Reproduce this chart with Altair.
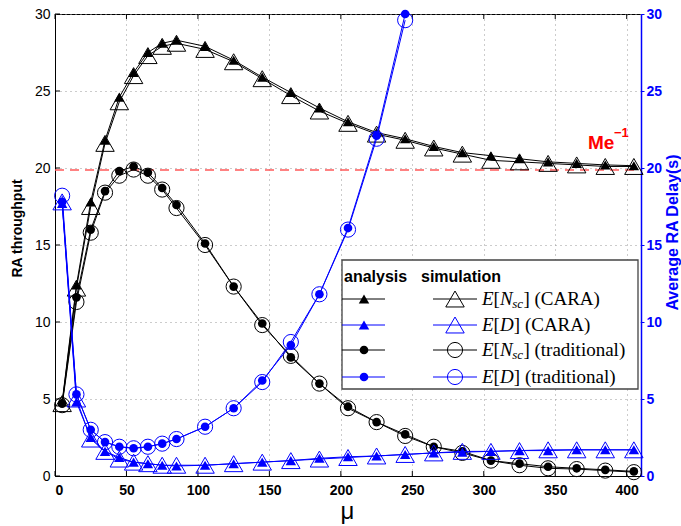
import altair as alt
import pandas as pd

# ---------------- data ----------------
mu = [5, 15, 25, 35, 45, 55, 65, 75, 85, 105, 125, 145, 165, 185, 205,
      225, 245, 265, 285, 305, 325, 345, 365, 385, 405]

nsc_cara_ana = [4.8, 12.4, 17.8, 21.8, 24.6, 26.2, 27.5, 28.1, 28.3, 27.9, 27.0, 25.9,
                24.9, 23.9, 23.0, 22.3, 21.9, 21.4, 21.0, 20.8, 20.6, 20.4, 20.3, 20.2, 20.15]
nsc_cara_sim = [4.7, 12.2, 17.5, 21.6, 24.3, 26.0, 27.3, 27.9, 28.1, 27.7, 26.9, 25.8,
                24.7, 23.7, 22.9, 22.2, 21.8, 21.3, 20.9, 20.5, 20.4, 20.3, 20.2, 20.1, 20.1]

nsc_trad_ana = [4.7, 11.6, 16.0, 18.5, 19.8, 20.1, 19.7, 18.7, 17.6, 15.1, 12.3, 9.9,
                7.7, 6.0, 4.5, 3.5, 2.7, 1.9, 1.6, 1.0, 0.8, 0.6, 0.5, 0.4, 0.3]
nsc_trad_sim = [4.6, 11.3, 15.8, 18.4, 19.5, 19.9, 19.5, 18.6, 17.4, 15.0, 12.3, 9.8,
                7.8, 6.0, 4.4, 3.5, 2.6, 1.9, 1.5, 1.0, 0.7, 0.5, 0.45, 0.35, 0.25]

d_cara_ana = [17.7, 4.8, 2.5, 1.6, 1.2, 0.9, 0.8, 0.7, 0.65, 0.7, 0.8, 0.9, 1.0, 1.15,
              1.25, 1.3, 1.4, 1.5, 1.55, 1.6, 1.65, 1.65, 1.7, 1.7, 1.7]
d_cara_sim = [17.8, 5.0, 2.4, 1.6, 1.1, 0.9, 0.8, 0.7, 0.7, 0.7, 0.8, 0.9, 1.0, 1.1,
              1.2, 1.3, 1.4, 1.5, 1.6, 1.6, 1.65, 1.7, 1.7, 1.7, 1.7]

mu_d_trad = [5, 15, 25, 35, 45, 55, 65, 75, 85, 105, 125, 145, 165, 185, 205, 225, 245]
d_trad_ana = [17.8, 5.3, 3.0, 2.2, 1.9, 1.8, 1.9, 2.1, 2.4, 3.2, 4.4, 6.2, 8.5, 11.8,
              16.1, 22.1, 30.0]
d_trad_sim = [18.2, 5.3, 3.0, 2.2, 1.9, 1.8, 1.9, 2.1, 2.4, 3.2, 4.4, 6.1, 8.7, 11.8,
              16.0, 21.9, 29.6]

me_inv = 19.87

x_ticks = [0, 50, 100, 150, 200, 250, 300, 350, 400]
y_ticks = [0, 5, 10, 15, 20, 25, 30]

legend_header = ["analysis", "simulation"]
legend_colors = ["black", "blue", "black", "blue"]
legend_shapes = ["triangle-up", "triangle-up", "circle", "circle"]
legend_var = ["N", "D", "N", "D"]
legend_tail = ["] (CARA)", "] (CARA)", "] (traditional)", "] (traditional)"]

# ---------------- layout ----------------
W, H = 586, 462
L, T = 55, 14
XMAX, YMAX = 410, 30
BLUE = "#0000ff"


def fx(px):
    return (px - L) * XMAX / W


def fy(py):
    return (T + H - py) * YMAX / H


xscale = alt.Scale(domain=[0, XMAX], nice=False, zero=False)
yscale = alt.Scale(domain=[0, YMAX], nice=False, zero=False)

xaxis = alt.Axis(values=x_ticks, title="μ", labelFont="Liberation Sans",
                 labelFontWeight="bold", labelFontSize=14, labelColor="black",
                 labelPadding=7, ticks=False, domainColor="black", domainWidth=1,
                 grid=True, gridColor="#999999", gridDash=[1, 4], gridWidth=1,
                 titleFont="Liberation Sans", titleFontSize=24, titleFontWeight="normal",
                 titleColor="black", titleX=292, titleY=35, titleBaseline="middle")

ylaxis = alt.Axis(orient="left", values=y_ticks, title="RA throughput",
                  labelFont="Liberation Sans", labelFontSize=14, labelColor="black",
                  labelPadding=5, ticks=False, domainColor="black", domainWidth=1,
                  grid=True, gridColor="#999999", gridDash=[1, 4], gridWidth=1,
                  titleFont="Liberation Sans", titleFontSize=14, titleFontWeight="bold",
                  titleColor="black", titleAngle=270, titleX=-38, titleY=214,
                  titleBaseline="middle")

yraxis = alt.Axis(orient="right", values=y_ticks, title="Average RA Delay(s)",
                  labelFont="Liberation Sans", labelFontSize=14, labelFontWeight="bold",
                  labelColor=BLUE, labelPadding=2, ticks=True, tickColor=BLUE, tickSize=3,
                  domainColor=BLUE, domainWidth=1.5, grid=False,
                  titleFont="Liberation Sans", titleFontSize=16, titleFontWeight="bold",
                  titleColor=BLUE, titleAngle=270, titleX=31, titleY=218,
                  titleBaseline="middle")


def X():
    return alt.X("mu:Q", scale=xscale, axis=xaxis)


def YL():
    return alt.Y("v:Q", scale=yscale, axis=ylaxis)


def YR():
    return alt.Y("v:Q", scale=yscale, axis=yraxis)


def series(xs, ys, color, shape, filled, size, Y):
    df = pd.DataFrame({"mu": xs, "v": ys})
    base = alt.Chart(df)
    line = base.mark_line(color=color, strokeWidth=1).encode(x=X(), y=Y())
    pts = base.mark_point(shape=shape, filled=filled, color=color, size=size,
                          strokeWidth=1, opacity=1).encode(x=X(), y=Y())
    return [line, pts]


# ---------------- black group (left axis) ----------------
tick_len_y = 5 * YMAX / H
tick_len_x = 5 * XMAX / W
xt = pd.DataFrame({"mu": x_ticks * 2,
                   "v": [0] * len(x_ticks) + [YMAX] * len(x_ticks),
                   "v2": [tick_len_y] * len(x_ticks) + [YMAX - tick_len_y] * len(x_ticks)})
yt = pd.DataFrame({"mu": [0] * len(y_ticks), "mu2": [tick_len_x] * len(y_ticks), "v": y_ticks})

xtick_layer = alt.Chart(xt).mark_rule(color="black", strokeWidth=1).encode(
    x=X(), y=YL(), y2="v2:Q")
ytick_layer = alt.Chart(yt).mark_rule(color="black", strokeWidth=1).encode(
    x=X(), x2="mu2:Q", y=YL())

me_df = pd.DataFrame({"mu": [0], "mu2": [XMAX], "v": [me_inv]})
me_line = alt.Chart(me_df).mark_rule(color="#ff5a5a", strokeWidth=1.5,
                                     strokeDash=[9, 6]).encode(x=X(), x2="mu2:Q", y=YL())

me_txt = alt.Chart(pd.DataFrame({"mu": [fx(588)], "v": [fy(143)], "t": ["Me"]})).mark_text(
    align="left", baseline="middle", font="Liberation Sans", fontSize=19,
    fontWeight="bold", color="#ff0000").encode(x=X(), y=YL(), text="t:N")
me_sup = alt.Chart(pd.DataFrame({"mu": [fx(614)], "v": [fy(133)], "t": ["\u22121"]})).mark_text(
    align="left", baseline="middle", font="Liberation Sans", fontSize=13,
    fontWeight="bold", color="#ff0000").encode(x=X(), y=YL(), text="t:N")

black_layers = [xtick_layer, ytick_layer, me_line]
black_layers += series(mu, nsc_cara_sim, "black", "triangle-up", False, 340, YL)
black_layers += series(mu, nsc_cara_ana, "black", "triangle-up", True, 110, YL)
black_layers += series(mu, nsc_trad_sim, "black", "circle", False, 230, YL)
black_layers += series(mu, nsc_trad_ana, "black", "circle", True, 75, YL)
black_layers += [me_txt, me_sup]
black = alt.layer(*black_layers)

# ---------------- blue group (right axis) + legend ----------------
blue_layers = []
blue_layers += series(mu, d_cara_sim, BLUE, "triangle-up", False, 340, YR)
blue_layers += series(mu, d_cara_ana, BLUE, "triangle-up", True, 110, YR)
blue_layers += series(mu_d_trad, d_trad_sim, BLUE, "circle", False, 230, YR)
blue_layers += series(mu_d_trad, d_trad_ana, BLUE, "circle", True, 75, YR)

box = alt.Chart(pd.DataFrame({"mu": [fx(342)], "mu2": [fx(638)],
                              "v": [fy(260)], "v2": [fy(389)]})).mark_rect(
    fill="white", stroke="#444444", strokeWidth=1.3).encode(
    x=X(), x2="mu2:Q", y=YR(), y2="v2:Q")

hdr = alt.Chart(pd.DataFrame({"mu": [fx(344), fx(421)], "v": [fy(277)] * 2,
                              "t": legend_header})).mark_text(
    align="left", baseline="middle", font="Liberation Sans", fontSize=16,
    fontWeight="bold", color="black").encode(x=X(), y=YR(), text="t:N")

row_y = [299, 325, 350, 377]
seg_rows = []
mk_rows = []
for i, ry in enumerate(row_y):
    for (a, b, m, filled) in [(342, 385, 364, True), (433, 477, 455, False)]:
        seg_rows.append({"mu": fx(a), "mu2": fx(b), "v": fy(ry), "c": legend_colors[i]})
        if legend_shapes[i] == "circle":
            sz = 75 if filled else 230
        else:
            sz = 110 if filled else 340
        mk_rows.append({"mu": fx(m), "v": fy(ry), "c": legend_colors[i],
                        "s": legend_shapes[i], "z": sz, "f": filled})
seg_df = pd.DataFrame(seg_rows)
mk_df = pd.DataFrame(mk_rows)

segs = alt.Chart(seg_df).mark_rule(strokeWidth=1).encode(
    x=X(), x2="mu2:Q", y=YR(), color=alt.Color("c:N", scale=None))
mk_open = alt.Chart(mk_df[~mk_df["f"]]).mark_point(filled=False, strokeWidth=1, opacity=1).encode(
    x=X(), y=YR(), color=alt.Color("c:N", scale=None),
    shape=alt.Shape("s:N", scale=None), size=alt.Size("z:Q", scale=None))
mk_fill = alt.Chart(mk_df[mk_df["f"]]).mark_point(filled=True, opacity=1).encode(
    x=X(), y=YR(), color=alt.Color("c:N", scale=None),
    shape=alt.Shape("s:N", scale=None), size=alt.Size("z:Q", scale=None))

# legend text pieces (LaTeX-like): italic E, upright [, italic var, subscript, upright tail
tx0 = 482
it_rows, up_rows, sub_rows = [], [], []
for i, ry in enumerate(row_y):
    it_rows.append({"mu": fx(tx0), "v": fy(ry), "t": "E"})
    up_rows.append({"mu": fx(tx0 + 11.6), "v": fy(ry), "t": "["})
    it_rows.append({"mu": fx(tx0 + 17.9), "v": fy(ry), "t": legend_var[i]})
    if legend_var[i] == "N":
        sub_rows.append({"mu": fx(tx0 + 30.3), "v": fy(ry + 5), "t": "sc"})
        up_rows.append({"mu": fx(tx0 + 41.4), "v": fy(ry), "t": legend_tail[i]})
    else:
        up_rows.append({"mu": fx(tx0 + 31.8), "v": fy(ry), "t": legend_tail[i]})

txt_it = alt.Chart(pd.DataFrame(it_rows)).mark_text(
    align="left", baseline="middle", font="Liberation Serif", fontSize=19,
    fontStyle="italic", color="black").encode(x=X(), y=YR(), text="t:N")
txt_up = alt.Chart(pd.DataFrame(up_rows)).mark_text(
    align="left", baseline="middle", font="Liberation Serif", fontSize=19,
    color="black").encode(x=X(), y=YR(), text="t:N")
txt_sub = alt.Chart(pd.DataFrame(sub_rows)).mark_text(
    align="left", baseline="middle", font="Liberation Serif", fontSize=13,
    fontStyle="italic", color="black").encode(x=X(), y=YR(), text="t:N")

blue_layers += [box, hdr, segs, mk_open, mk_fill, txt_it, txt_up, txt_sub]
blue = alt.layer(*blue_layers)

chart = alt.layer(black, blue).resolve_scale(y="independent").properties(
    width=W, height=H,
    padding={"left": L, "top": T, "right": 681 - L - W, "bottom": 526 - T - H},
    autosize=alt.AutoSizeParams(type="none"),
    background="white",
).configure_view(stroke="black", strokeWidth=1)

chart.save("out.html", embed_options={"renderer": "svg", "actions": False})
